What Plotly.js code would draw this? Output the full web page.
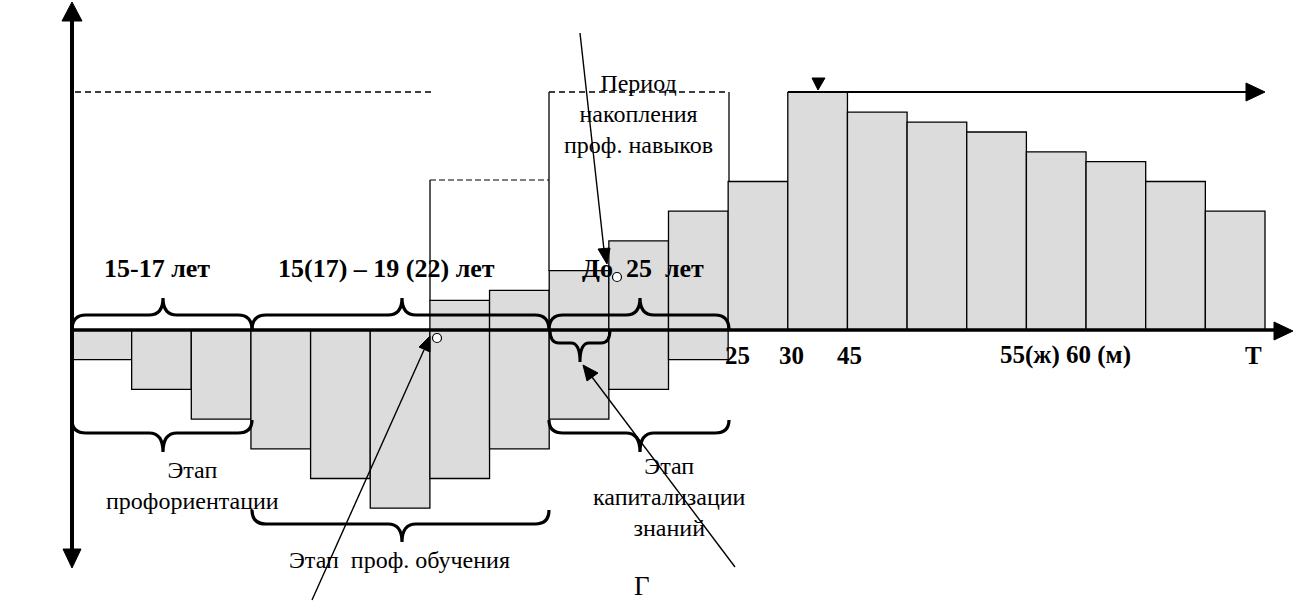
<!DOCTYPE html>
<html><head><meta charset="utf-8">
<script src="https://cdn.plot.ly/plotly-3.0.1.min.js"></script>
<style>html,body{margin:0;padding:0;background:#fff}#chart{width:1296px;height:603px}</style>
</head><body><div id="chart"></div>
<script>
// ---- data ----
const periods = [0,1,2,3,4,5,6,7,8,9,10,11,12,13,14,15,16,17,18,19];
const returnsValues = [null,null,null,null,null,null,3,4,6,9,12,15,24,22,21,20,18,17,15,12];
const costValues = [-3,-6,-9,-12,-15,-18,-15,-12,-9,-6,-3,null,null,null,null,null,null,null,null,null];
const ageLabels = ['25','30','45','55(ж) 60 (м)','Т'];
const ageTopLabels = ['15-17 лет','15(17) – 19 (22) лет','До\u00a0\u00a025\u00a0\u00a0лет'];
const stageLabels = ['Этап<br>профориентации','Этап\u00a0\u00a0проф. обучения','Этап<br>капитализации<br>знаний'];
const periodLabel = 'Период<br>накопления<br>проф. навыков';
const figLetter = 'Г';

// ---- pixel helpers for decorations ----
const PXU = 59.65, PYU = 9.9;
const X = px => -0.5 + (px - 72) / PXU;
const Y = py => (330 - py) / PYU;
const P = (x, y) => X(x) + ',' + Y(y);

const shapes = [];
const line = (x1, y1, x2, y2, w, dash) => shapes.push({type:'line', xref:'x', yref:'y', x0:X(x1), y0:Y(y1), x1:X(x2), y1:Y(y2), line:{color:'#000', width:w, dash:dash||'solid'}, layer:'above'});
const tri = (pts) => shapes.push({type:'path', xref:'x', yref:'y', path:'M' + pts.map(p => P(p[0], p[1])).join(' L') + ' Z', fillcolor:'#000', line:{color:'#000', width:1}, layer:'above'});
const brace = (x1, x2, xc, yb, ym, yt, r, w) => shapes.push({type:'path', xref:'x', yref:'y', layer:'above',
  path:`M${P(x1,yb)} Q${P(x1,ym)} ${P(x1+r,ym)} L${P(xc-r,ym)} Q${P(xc,ym)} ${P(xc,yt)} Q${P(xc,ym)} ${P(xc+r,ym)} L${P(x2-r,ym)} Q${P(x2,ym)} ${P(x2,yb)}`,
  line:{color:'#000', width:w}});
const circ = (cx, cy, r) => shapes.push({type:'circle', xref:'x', yref:'y', x0:X(cx-r), x1:X(cx+r), y0:Y(cy+r), y1:Y(cy-r), fillcolor:'#fff', line:{color:'#000', width:1.2}, layer:'above'});

// axes
line(72, 20, 72, 550, 4);
tri([[72,2],[62,21],[82,21]]);
tri([[72,568],[63,549],[81,549]]);
line(72, 330, 1278, 330, 3.5);
tri([[1293,331],[1274,322],[1274,340]]);
// reference dashed levels and frames
line(75, 92, 435, 92, 1.3, '6px,4px');
line(549, 92, 729, 92, 1.3, '6px,4px');
line(549, 92, 549, 271, 1.3);
line(729, 92, 729, 182, 1.3);
line(430, 180, 549, 180, 1, '6px,3px');
line(430, 180, 430, 301, 1.3);
line(788, 92, 1250, 92, 1.8);
tri([[1265,92],[1246,83],[1246,101]]);
tri([[818,90],[812,78],[825,78]]);
// braces
brace(72, 252, 163, 330, 315, 298, 14, 3.2);
brace(252, 549, 402, 330, 315, 298, 14, 3.2);
brace(549, 729, 640, 330, 315, 298, 14, 3.2);
brace(72, 252, 163, 420, 433, 452, 14, 3.2);
brace(252, 549, 402, 510, 524, 542, 14, 3.2);
brace(549, 729, 640, 420, 433, 452, 14, 3.2);
brace(550, 610, 580, 330, 343, 362, 9, 3);
// pointer lines
line(580, 33, 604, 250, 1.4);
tri([[607,264],[598,249],[610,248]]);
line(312, 600, 424, 350, 1.4);
tri([[430,336],[419,347],[430,352]]);
line(735, 567, 592, 377, 1.4);
tri([[583,365],[587,381],[598,373]]);
circ(617, 277, 4.5);
circ(437, 338, 4.5);

// ---- annotations ----
const ann = [];
const FONT = 'Liberation Serif, Times New Roman, serif';
const txt = (t, x, y, size, bold, extra) => ann.push(Object.assign({text: bold ? '<b>' + t + '</b>' : t, x:X(x), y:Y(y), xref:'x', yref:'y', showarrow:false,
  font:{family:FONT, size:size, color:'#000'}, xanchor:'center', yanchor:'middle'}, extra || {}));

const topX = [157, 386, 643];
ageTopLabels.forEach((t, i) => txt(t, topX[i], 268, 26, true));
const ageX = [737, 791, 849, 1065, 1253];
ageLabels.forEach((t, i) => txt(t, ageX[i], 355, 25, true));
txt(periodLabel, 638, 114, 24, false);
const stX = [192, 399, 669], stY = [485, 560, 497];
stageLabels.forEach((t, i) => txt(t, stX[i], stY[i], 24, false));
txt(figLetter, 642, 603, 27, false, {yanchor:'bottom'});

const traces = [
  {type:'bar', x:periods, y:costValues, width:1, marker:{color:'#dcdcdc', line:{color:'#000', width:1.3}}, hoverinfo:'skip'},
  {type:'bar', x:periods, y:returnsValues, width:1, marker:{color:'#dcdcdc', line:{color:'#000', width:1.3}}, hoverinfo:'skip'}
];

const layout = {
  width:1296, height:603, margin:{l:0, r:0, t:0, b:0},
  paper_bgcolor:'#fff', plot_bgcolor:'#fff', showlegend:false,
  barmode:'relative', bargap:0,
  xaxis:{range:[X(0), X(1296)], visible:false, fixedrange:true},
  yaxis:{range:[Y(603), Y(0)], visible:false, fixedrange:true},
  shapes:shapes, annotations:ann
};
Plotly.newPlot('chart', traces, layout, {staticPlot:true, displayModeBar:false});
</script>
</body></html>
